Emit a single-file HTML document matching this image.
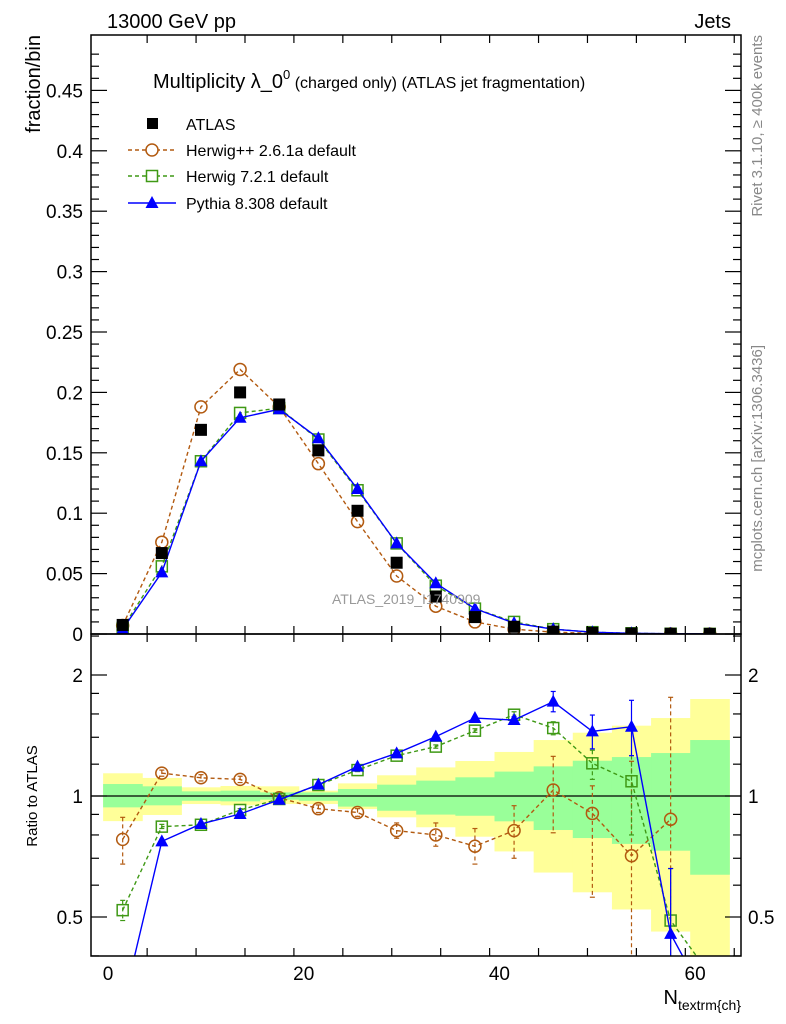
<!DOCTYPE html>
<html><head><meta charset="utf-8"><style>
body{margin:0;background:#fff}
svg{display:block;font-family:"Liberation Sans",sans-serif}
</style></head><body>
<svg id="c" width="786" height="1024" viewBox="0 0 786 1024"></svg>
<script>
const xCenters=[1.5,5.5,9.5,13.5,17.5,21.5,25.5,29.5,33.5,37.5,41.5,45.5,49.5,53.5,57.5,61.5];
const atlasVals=[0.0075,0.067,0.169,0.200,0.190,0.152,0.102,0.059,0.031,0.014,0.006,0.002,0.001,0.0004,0.0002,0.0001];
const hppVals=[0.007,0.076,0.188,0.219,0.188,0.141,0.093,0.048,0.023,0.010,0.004,0.0015,0.0006,0.0002,0.0001,0.00005];
const h7Vals=[0.005,0.056,0.143,0.183,0.187,0.161,0.119,0.075,0.040,0.021,0.010,0.004,0.0015,0.0006,0.0002,0.0001];
const pyVals=[0.004,0.051,0.143,0.179,0.186,0.162,0.120,0.075,0.042,0.021,0.009,0.004,0.0015,0.0006,0.0002,0.0001];
const hppRatio=[0.78,1.14,1.11,1.10,0.99,0.93,0.91,0.82,0.80,0.75,0.82,1.035,0.905,0.71,0.875];
const hppHi=[0.885,1.16,1.13,1.12,1.01,0.95,0.93,0.857,0.857,0.83,0.946,1.255,1.06,1.22,1.76];
const hppLo=[0.677,1.12,1.09,1.08,0.97,0.91,0.89,0.785,0.75,0.677,0.70,0.81,0.56,0.3,0.3];
const h7Ratio=[0.52,0.839,0.848,0.923,0.983,1.065,1.16,1.26,1.327,1.454,1.593,1.476,1.206,1.088,0.49,0.36];
const h7Hi=[0.55,0.85,0.86,0.93,0.99,1.075,1.17,1.27,1.34,1.47,1.62,1.53,1.30,1.26,0.66,0.36];
const h7Lo=[0.49,0.83,0.84,0.915,0.975,1.055,1.15,1.25,1.315,1.44,1.57,1.42,1.10,0.80,0.3,0.36];
const pyRatio=[0.3,0.771,0.852,0.902,0.979,1.067,1.183,1.277,1.405,1.563,1.545,1.717,1.448,1.487,0.454,0.3];
const pyHi=[0.3,0.78,0.86,0.91,0.985,1.075,1.19,1.285,1.415,1.575,1.575,1.82,1.59,1.73,0.66,0.3];
const pyLo=[0.3,0.762,0.845,0.895,0.973,1.06,1.175,1.27,1.395,1.55,1.52,1.62,1.31,1.26,0.3,0.3];
const greenUp=[1.071,1.057,1.027,1.031,1.021,1.021,1.041,1.067,1.092,1.113,1.150,1.185,1.224,1.25,1.279,1.378];
const greenLo=[0.937,0.948,0.973,0.970,0.979,0.973,0.941,0.919,0.899,0.893,0.865,0.823,0.786,0.760,0.731,0.637];
const yellowUp=[1.139,1.109,1.051,1.059,1.057,1.031,1.075,1.126,1.178,1.222,1.287,1.378,1.437,1.496,1.563,1.743];
const yellowLo=[0.866,0.897,0.955,0.948,0.955,0.955,0.928,0.885,0.836,0.792,0.728,0.645,0.576,0.522,0.460,0.38];
const mainTicks=[0,0.05,0.1,0.15,0.2,0.25,0.3,0.35,0.4,0.45];
const mainTickLabels=["0","0.05","0.1","0.15","0.2","0.25","0.3","0.35","0.4","0.45"];
const xTicks=[0,20,40,60];
const ratioTicks=[0.5,1,2];
const ratioTickLabels=["0.5","1","2"];

const NS="http://www.w3.org/2000/svg";
const svg=document.getElementById('c');
const L=91,R=741,T=35,MB=634,RB=956;
const X=v=>108+v*9.785;
const Y=v=>634-v*1208;
const YR=v=>796-Math.log2(v)*121;
function mk(tag,attrs,parent){const e=document.createElementNS(NS,tag);for(const k in attrs)e.setAttribute(k,attrs[k]);(parent||svg).appendChild(e);return e;}
function txt(s,attrs,parent){const e=mk('text',attrs,parent);e.textContent=s;return e;}
const defs=mk('defs',{});
const cp1=mk('clipPath',{id:'cm'},defs);mk('rect',{x:L,y:T,width:R-L,height:MB-T},cp1);
const cp2=mk('clipPath',{id:'cr'},defs);mk('rect',{x:L,y:MB,width:R-L,height:RB-MB},cp2);

// bands
const gb=mk('g',{'clip-path':'url(#cr)'});

xCenters.forEach((c,i)=>{
  const x0=X(c-2),x1=X(c+2);
  const y=mk('rect',{x:x0,y:YR(yellowUp[i]),width:x1-x0+0.5,height:YR(yellowLo[i])-YR(yellowUp[i]),fill:'#ffff99'},gb);
  
});
xCenters.forEach((c,i)=>{
  const x0=X(c-2),x1=X(c+2);
  const g=mk('rect',{x:x0,y:YR(greenUp[i]),width:x1-x0+0.5,height:YR(greenLo[i])-YR(greenUp[i]),fill:'#99ff99'},gb);
  
});
mk('line',{x1:L,x2:R,y1:YR(1),y2:YR(1),stroke:'#000','stroke-width':1.2});

const HC='#b25a10',GC='#3f9915',BC='#0000ff';
function marker(kind,x,y,color,g){
  let e;
  if(kind==='sq')e=mk('rect',{x:x-6,y:y-6,width:12,height:12,fill:'#000'},g);
  else if(kind==='circ')e=mk('circle',{cx:x,cy:y,r:6,fill:'none',stroke:color,'stroke-width':1.5},g);
  else if(kind==='osq')e=mk('rect',{x:x-5.5,y:y-5.5,width:11,height:11,fill:'none',stroke:color,'stroke-width':1.5},g);
  else e=mk('path',{d:`M${x},${y-7}L${x+6.5},${y+5}L${x-6.5},${y+5}Z`,fill:color},g);
  return e;
}
function series(name,xs,vals,yf,color,dash,kind,clip,hi,lo){
  const g=mk('g',{'clip-path':`url(#${clip})`});
  
  if(hi){xs.forEach((c,i)=>{const l=mk('line',{x1:X(c),x2:X(c),y1:yf(hi[i]),y2:yf(lo[i]),stroke:color,'stroke-width':1.2,'stroke-dasharray':dash||'none'},g);
    mk('line',{x1:X(c)-2.5,x2:X(c)+2.5,y1:yf(hi[i]),y2:yf(hi[i]),stroke:color,'stroke-width':1.2},g);
    mk('line',{x1:X(c)-2.5,x2:X(c)+2.5,y1:yf(lo[i]),y2:yf(lo[i]),stroke:color,'stroke-width':1.2},g);});}
  if(color){const d=vals.map((v,i)=>(i?'L':'M')+X(xs[i])+','+yf(v)).join('');
    mk('path',{d,fill:'none',stroke:color,'stroke-width':1.4,'stroke-dasharray':dash||'none'},g);}
  vals.forEach((v,i)=>{const m=marker(kind,X(xs[i]),yf(v),color,g);
    });
}
series('herwigpp-main',xCenters,hppVals,Y,HC,'4,3','circ','cm');
series('herwig7-main',xCenters,h7Vals,Y,GC,'4,3','osq','cm');
series('pythia-main',xCenters,pyVals,Y,BC,null,'tri','cm');
series('atlas-data',xCenters,atlasVals,Y,null,null,'sq','cm');
const xs15=xCenters.slice(0,15);
series('herwigpp-ratio',xs15,hppRatio,YR,HC,'4,3','circ','cr',hppHi,hppLo);
series('herwig7-ratio',xCenters,h7Ratio,YR,GC,'4,3','osq','cr',h7Hi,h7Lo);
series('pythia-ratio',xCenters,pyRatio,YR,BC,null,'tri','cr',pyHi,pyLo);

// frames
mk('rect',{x:L,y:T,width:R-L,height:MB-T,fill:'none',stroke:'#000','stroke-width':1.5});
mk('rect',{x:L,y:MB,width:R-L,height:RB-MB,fill:'none',stroke:'#000','stroke-width':1.5});
const tk=mk('g',{stroke:'#000','stroke-width':1.2});

for(let v=0;v<=0.49;v+=0.01){const y=Y(v);const big=Math.abs(v/0.05-Math.round(v/0.05))<1e-6;const l=big?16:8;
  mk('line',{x1:L,x2:L+l,y1:y,y2:y},tk);mk('line',{x1:R,x2:R-l,y1:y,y2:y},tk);}
for(let v=-1;v<=64;v+=5){if(v<0)continue;const x=X(v);const big=v%20===0;const l=big?16:8;
  [MB,RB].forEach(b=>{mk('line',{x1:x,x2:x,y1:b,y2:b-l},tk);});
  [T,MB].forEach(b=>{mk('line',{x1:x,x2:x,y1:b,y2:b+l},tk);});}
[0.4,0.6,0.7,0.8,0.9,1.2,1.4,1.6,1.8,2.5].forEach(v=>{const y=YR(v);mk('line',{x1:L,x2:L+8,y1:y,y2:y},tk);mk('line',{x1:R,x2:R-8,y1:y,y2:y},tk);});
ratioTicks.forEach(v=>{const y=YR(v);mk('line',{x1:L,x2:L+16,y1:y,y2:y},tk);mk('line',{x1:R,x2:R-16,y1:y,y2:y},tk);});

mainTicks.forEach((v,i)=>{const t=txt(mainTickLabels[i],{x:83,y:Y(v)+7,'font-size':19,'text-anchor':'end'});
  });
xTicks.forEach(v=>{const t=txt(String(v),{x:X(v),y:980,'font-size':19,'text-anchor':'middle'});
  });
ratioTicks.forEach((v,i)=>{const y=YR(v)+7;
  const a=txt(ratioTickLabels[i],{x:83,y,'font-size':19,'text-anchor':'end'});
  const b=txt(ratioTickLabels[i],{x:748,y,'font-size':19});});
</script>
<script>
(function(){
const svg=document.getElementById('c');const NS="http://www.w3.org/2000/svg";
svg.insertAdjacentHTML('beforeend',`
<text x="107" y="28" font-size="20">13000 GeV pp</text>
<text x="731" y="28" font-size="20" text-anchor="end">Jets</text>
<text x="153" y="88" font-size="20">Multiplicity λ_0<tspan font-size="13" dy="-9">0</tspan><tspan font-size="16" dy="9"> (charged only) (ATLAS jet fragmentation)</tspan></text>
<g font-size="16">
<rect x="147" y="118" width="11" height="11" fill="#000"/><text x="186" y="130">ATLAS</text>
<line x1="128" x2="176" y1="150" y2="150" stroke="#b25a10" stroke-width="1.4" stroke-dasharray="4,3"/><circle cx="152" cy="150" r="6" fill="#fff" stroke="#b25a10" stroke-width="1.5"/><text x="186" y="156">Herwig++ 2.6.1a default</text>
<line x1="128" x2="176" y1="176" y2="176" stroke="#3f9915" stroke-width="1.4" stroke-dasharray="4,3"/><rect x="146.5" y="170.5" width="11" height="11" fill="#fff" stroke="#3f9915" stroke-width="1.5"/><text x="186" y="182">Herwig 7.2.1 default</text>
<line x1="128" x2="176" y1="203" y2="203" stroke="#0000ff" stroke-width="1.4"/><path d="M152,196L158.5,208L145.5,208Z" fill="#0000ff"/><text x="186" y="209">Pythia 8.308 default</text>
</g>
<text x="332" y="604" font-size="14" fill="#999">ATLAS_2019_I1740909</text>
<text transform="translate(40,35) rotate(-90)" font-size="20" text-anchor="end">fraction/bin</text>
<text transform="translate(37,796) rotate(-90)" font-size="15" text-anchor="middle">Ratio to ATLAS</text>
<text x="741" y="1004" font-size="20" text-anchor="end">N<tspan font-size="14" dy="6">textrm{ch}</tspan></text>
<text transform="translate(762,35) rotate(-90)" font-size="15" fill="#888" text-anchor="end">Rivet 3.1.10, ≥ 400k events</text>
<text transform="translate(762,345) rotate(-90)" font-size="15" fill="#888" text-anchor="end">mcplots.cern.ch [arXiv:1306.3436]</text>
`);
})();
</script>
</body></html>
